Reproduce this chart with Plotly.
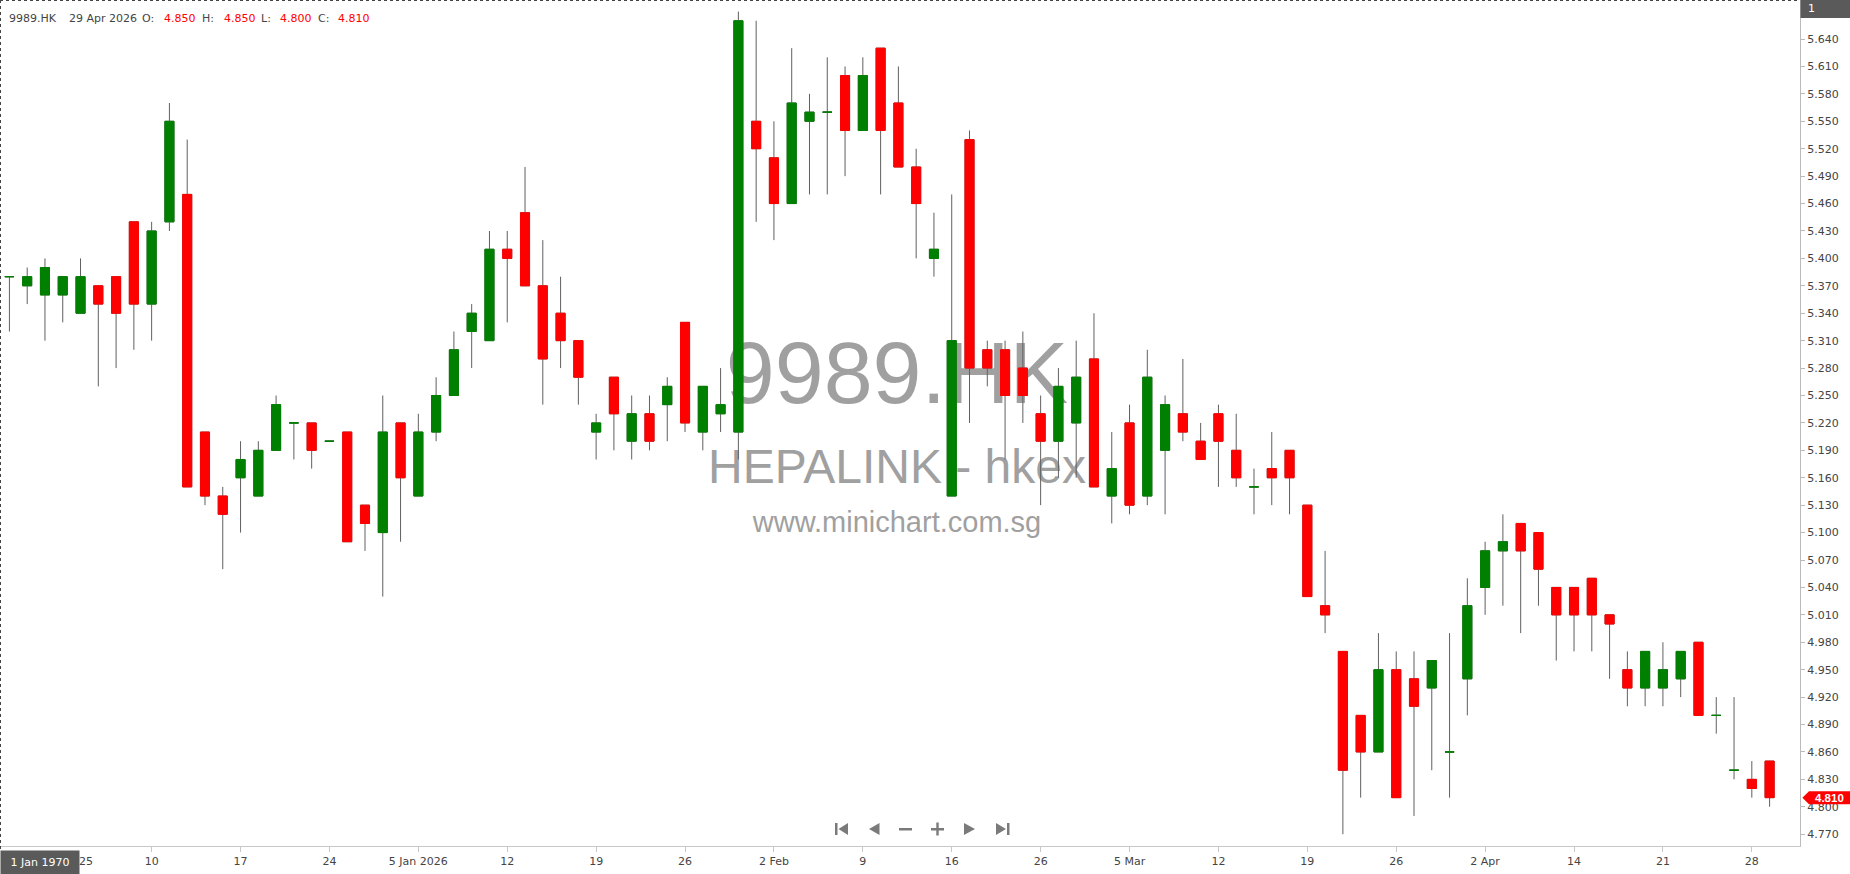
import plotly.graph_objects as go

# ---------------- data ----------------
symbol = "9989.HK"
company = "HEPALINK - hkex"
site = "www.minichart.com.sg"
last_date = "29 Apr 2026"

opens = [5.38, 5.37, 5.36, 5.36, 5.34, 5.37, 5.38, 5.44, 5.35, 5.44,
         5.47, 5.21, 5.14, 5.16, 5.14, 5.19, 5.22, 5.22, 5.20, 5.21,
         5.13, 5.10, 5.22, 5.14, 5.21, 5.25, 5.32, 5.31, 5.41, 5.45,
         5.37, 5.34, 5.31, 5.21, 5.27, 5.20, 5.23, 5.24, 5.33, 5.21,
         5.23, 5.21, 5.55, 5.51, 5.46, 5.55, 5.56, 5.60, 5.54, 5.63,
         5.57, 5.50, 5.40, 5.14, 5.53, 5.30, 5.30, 5.28, 5.23, 5.20,
         5.22, 5.29, 5.14, 5.22, 5.14, 5.19, 5.23, 5.20, 5.23, 5.19,
         5.15, 5.17, 5.19, 5.13, 5.02, 4.97, 4.90, 4.86, 4.95, 4.94,
         4.93, 4.86, 4.94, 5.04, 5.08, 5.11, 5.10, 5.04, 5.04, 5.05,
         5.01, 4.95, 4.93, 4.93, 4.94, 4.98, 4.90, 4.84, 4.83, 4.85]

highs = [5.38, 5.39, 5.40, 5.38, 5.40, 5.37, 5.38, 5.44, 5.44, 5.57,
         5.53, 5.21, 5.15, 5.20, 5.20, 5.25, 5.22, 5.22, 5.20, 5.21,
         5.13, 5.25, 5.22, 5.23, 5.27, 5.32, 5.35, 5.43, 5.43, 5.50,
         5.42, 5.38, 5.31, 5.23, 5.27, 5.25, 5.25, 5.27, 5.33, 5.26,
         5.28, 5.67, 5.66, 5.55, 5.63, 5.58, 5.62, 5.61, 5.62, 5.63,
         5.61, 5.52, 5.45, 5.47, 5.54, 5.31, 5.31, 5.32, 5.25, 5.28,
         5.31, 5.34, 5.21, 5.24, 5.30, 5.25, 5.29, 5.22, 5.24, 5.23,
         5.17, 5.21, 5.19, 5.13, 5.08, 4.97, 4.90, 4.99, 4.97, 4.97,
         4.96, 4.99, 5.05, 5.09, 5.12, 5.11, 5.10, 5.04, 5.04, 5.05,
         5.01, 4.97, 4.97, 4.98, 4.97, 4.98, 4.92, 4.92, 4.85, 4.85]

lows = [5.32, 5.35, 5.31, 5.33, 5.34, 5.26, 5.28, 5.30, 5.31, 5.43,
        5.15, 5.13, 5.06, 5.10, 5.14, 5.19, 5.18, 5.17, 5.20, 5.09,
        5.08, 5.03, 5.09, 5.14, 5.20, 5.25, 5.28, 5.31, 5.33, 5.37,
        5.24, 5.28, 5.24, 5.18, 5.19, 5.18, 5.19, 5.20, 5.21, 5.19,
        5.21, 5.18, 5.44, 5.42, 5.46, 5.47, 5.47, 5.49, 5.54, 5.47,
        5.50, 5.40, 5.38, 5.14, 5.22, 5.26, 5.18, 5.22, 5.13, 5.16,
        5.16, 5.15, 5.11, 5.12, 5.13, 5.12, 5.20, 5.18, 5.15, 5.15,
        5.12, 5.13, 5.12, 5.03, 4.99, 4.77, 4.81, 4.86, 4.81, 4.79,
        4.84, 4.81, 4.90, 5.01, 5.02, 4.99, 5.02, 4.96, 4.97, 4.97,
        4.94, 4.91, 4.91, 4.91, 4.92, 4.90, 4.88, 4.83, 4.81, 4.80]

closes = [5.38, 5.38, 5.39, 5.38, 5.38, 5.35, 5.34, 5.35, 5.43, 5.55,
          5.15, 5.14, 5.12, 5.18, 5.19, 5.24, 5.22, 5.19, 5.20, 5.09,
          5.11, 5.21, 5.16, 5.21, 5.25, 5.30, 5.34, 5.41, 5.40, 5.37,
          5.29, 5.31, 5.27, 5.22, 5.23, 5.23, 5.20, 5.26, 5.22, 5.26,
          5.24, 5.66, 5.52, 5.46, 5.57, 5.56, 5.56, 5.54, 5.60, 5.54,
          5.50, 5.46, 5.41, 5.31, 5.28, 5.28, 5.25, 5.25, 5.20, 5.26,
          5.27, 5.15, 5.17, 5.13, 5.27, 5.24, 5.21, 5.18, 5.20, 5.16,
          5.15, 5.16, 5.16, 5.03, 5.01, 4.84, 4.86, 4.95, 4.81, 4.91,
          4.96, 4.86, 5.02, 5.08, 5.09, 5.08, 5.06, 5.01, 5.01, 5.01,
          5.00, 4.93, 4.97, 4.95, 4.97, 4.90, 4.90, 4.84, 4.82, 4.81]

first_tick_label = "25"
tick_labels = ["10", "17", "24", "5 Jan 2026", "12", "19", "26", "2 Feb", "9",
               "16", "26", "5 Mar", "12", "19", "26", "2 Apr", "14", "21", "28"]
tick_index = list(range(8, 99, 5))
price_ticks = [round(4.77 + 0.03 * k, 2) for k in range(30)]

# ---------------- styling / geometry ----------------
W, H = 1850, 874
ML, MR, MT, MB = 0, 50, 0, 28
PW, PH = W - ML - MR, H - MT - MB
X0, X1 = -0.529, 100.71
Y0, Y1 = 4.7571, 5.6827

GREEN = "#008000"
RED = "#ff0000"
WICK = "#606060"
TXT = "#444444"
FONT = "DejaVu Sans"


def xp(px):
    return px / PW


def yp(py):
    return 1 - py / PH


def pix_y(v):
    return (Y1 - v) / (Y1 - Y0) * PH


def path(points):
    s = "M " + " L ".join(f"{xp(a):.6f},{yp(b):.6f}" for a, b in points) + " Z"
    return s


idx = list(range(len(opens)))
g = [i for i in idx if closes[i] >= opens[i]]
r = [i for i in idx if closes[i] < opens[i]]


def body(ids, color):
    return go.Candlestick(
        x=ids,
        open=[opens[i] for i in ids],
        close=[closes[i] for i in ids],
        high=[max(opens[i], closes[i]) for i in ids],
        low=[min(opens[i], closes[i]) for i in ids],
        increasing=dict(line=dict(color=color, width=1), fillcolor=color),
        decreasing=dict(line=dict(color=color, width=1), fillcolor=color),
        whiskerwidth=0, hoverinfo="skip", showlegend=False,
    )


fig = go.Figure()
fig.add_trace(go.Candlestick(
    x=idx, open=opens, high=highs, low=lows, close=closes,
    increasing=dict(line=dict(color=WICK, width=1), fillcolor=WICK),
    decreasing=dict(line=dict(color=WICK, width=1), fillcolor=WICK),
    whiskerwidth=0, hoverinfo="skip", showlegend=False,
))
fig.add_trace(body(g, GREEN))
fig.add_trace(body(r, RED))

shapes = []
# watermark (below traces)
wm = [(symbol, 364, 88, 360, 80), (company, 461, 48, 400, 46), (site, 519, 29, 320, 30)]
for text, cy, size, w, h in wm:
    cx = 897
    shapes.append(dict(type="rect", xref="paper", yref="paper", layer="below",
                       x0=xp(cx - w / 2), x1=xp(cx + w / 2), y0=yp(cy + h / 2), y1=yp(cy - h / 2),
                       line=dict(width=0, color="rgba(0,0,0,0)"), fillcolor="rgba(0,0,0,0)",
                       label=dict(text=text, textposition="middle center",
                                  font=dict(family="Liberation Sans", size=size, color="#a0a0a0"))))
# dashed border top / left
shapes.append(dict(type="line", xref="paper", yref="paper", x0=0, x1=1, y0=yp(0.5), y1=yp(0.5),
                   line=dict(color="#444", width=1, dash="dot")))
shapes.append(dict(type="line", xref="paper", yref="paper", x0=xp(0.5), x1=xp(0.5), y0=yp(0), y1=yp(852),
                   line=dict(color="#444", width=1, dash="dot")))
# "1" box top-right
shapes.append(dict(type="rect", xref="paper", yref="paper", x0=xp(1800.5), x1=xp(1851), y0=yp(18), y1=yp(-1),
                   line=dict(width=0), fillcolor="#5a5a5a", layer="above"))
# last price tag
ly = pix_y(closes[-1])
shapes.append(dict(type="path", xref="paper", yref="paper", layer="above",
                   path=path([(1802.4, ly), (1809, ly - 6.5), (1851, ly - 6.5), (1851, ly + 6.5), (1809, ly + 6.5)]),
                   line=dict(width=0), fillcolor=RED))
# navigation icons
NAV = "#7a7a7a"
icons = [
    [(835, 823), (837.5, 823), (837.5, 835), (835, 835)],
    [(848, 823), (848, 835), (838.5, 829)],
    [(879.5, 823), (879.5, 835), (869, 829)],
    [(899, 828), (912, 828), (912, 830.5), (899, 830.5)],
    [(931, 828), (944, 828), (944, 830.5), (931, 830.5)],
    [(936.3, 822.5), (938.7, 822.5), (938.7, 835.5), (936.3, 835.5)],
    [(964, 823), (964, 835), (975, 829)],
    [(996, 823), (996, 835), (1006, 829)],
    [(1007, 823), (1009.5, 823), (1009.5, 835), (1007, 835)],
]
for pts in icons:
    shapes.append(dict(type="path", xref="paper", yref="paper", layer="above", path=path(pts),
                       line=dict(width=0), fillcolor=NAV))

annotations = []
# header
hdr = [(symbol, 7, TXT), (last_date, 67, TXT), ("O:", 140, TXT), (f"{opens[-1]:.3f}", 162, RED),
       ("H:", 200, TXT), (f"{highs[-1]:.3f}", 222, RED), ("L:", 259, TXT), (f"{lows[-1]:.3f}", 278, RED),
       ("C:", 316, TXT), (f"{closes[-1]:.3f}", 336, RED)]
for text, x, col in hdr:
    annotations.append(dict(text=text, xref="paper", yref="paper", x=xp(x), y=yp(18.5),
                            xanchor="left", yanchor="middle", showarrow=False,
                            font=dict(family=FONT, size=11, color=col)))
annotations.append(dict(text="1", xref="paper", yref="paper", x=xp(1806), y=yp(9),
                        xanchor="left", yanchor="middle", showarrow=False,
                        font=dict(family=FONT, size=11, color="white")))
annotations.append(dict(text=f"{closes[-1]:.3f}", xref="paper", yref="paper", x=xp(1829), y=yp(ly),
                        xanchor="center", yanchor="middle", showarrow=False,
                        font=dict(family="Liberation Sans", size=11.5, color="white", weight="bold")))
annotations.append(dict(text=first_tick_label, xref="paper", yref="paper", x=xp(86), y=yp(861),
                        xanchor="center", yanchor="middle", showarrow=False,
                        font=dict(family=FONT, size=11, color=TXT)))
annotations.append(dict(text="1 Jan 1970", xref="paper", yref="paper", x=xp(0), y=yp(862.5),
                        xanchor="left", yanchor="middle", showarrow=False, width=72, height=17,
                        bgcolor="#5a5a5a", borderpad=3,
                        font=dict(family=FONT, size=11, color="white")))

fig.update_layout(
    width=W, height=H,
    margin=dict(l=ML, r=MR, t=MT, b=MB, pad=0),
    paper_bgcolor="white", plot_bgcolor="white",
    showlegend=False, boxgap=0.27, hovermode=False,
    shapes=shapes, annotations=annotations,
    xaxis=dict(range=[X0, X1], showgrid=False, zeroline=False, rangeslider=dict(visible=False),
               tickmode="array", tickvals=tick_index, ticktext=tick_labels,
               ticks="outside", ticklen=5, tickcolor="#c8c8c8",
               showline=True, linecolor="#c8c8c8", linewidth=1, automargin=False,
               tickfont=dict(family=FONT, size=11, color=TXT)),
    yaxis=dict(range=[Y0, Y1], side="right", showgrid=False, zeroline=False,
               tickmode="array", tickvals=price_ticks, tickformat=".3f",
               ticks="outside", ticklen=4, tickcolor="#bbbbbb",
               showline=True, linecolor="#bbbbbb", linewidth=1, automargin=False,
               tickfont=dict(family=FONT, size=11, color=TXT)),
)

fig.write_html("out.html", config=dict(displayModeBar=False),
               post_script="document.body.style.margin='0';document.body.style.overflow='hidden';")
